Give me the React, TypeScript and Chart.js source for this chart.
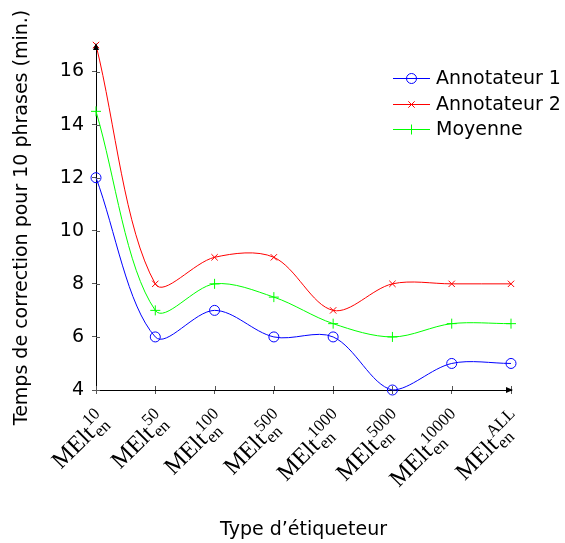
import React, { useEffect, useRef } from 'react';
import { Chart, registerables } from 'chart.js';

Chart.register(...registerables);

// ---- data ----
const categorySups = ['10', '50', '100', '500', '1000', '5000', '10000', 'ALL'];
const categorySub = 'en';
const categoryBase = 'MElt';
const annotateur1 = [12, 6, 7, 6, 6, 4, 5, 5];
const annotateur2 = [17, 8, 9, 9, 7, 8, 8, 8];
const moyenne = [14.5, 7, 8, 7.5, 6.5, 6, 6.5, 6.5];
const seriesNames = ['Annotateur 1', 'Annotateur 2', 'Moyenne'];
const seriesColors = ['#0000ff', '#ff0000', '#00ff00'];
const seriesMarkers = ['circle', 'crossRot', 'cross'];
const yMin = 4;
const yMax = 17;
const yStep = 2;
const xTitle = 'Type d\u2019étiqueteur';
const yTitle = 'Temps de correction pour 10 phrases (min.)';

const SANS = '"DejaVu Sans", sans-serif';
const SERIF = '"Liberation Serif", serif';

function drawMarker(ctx: CanvasRenderingContext2D, kind: string, x: number, y: number, color: string) {
  ctx.save();
  ctx.strokeStyle = color;
  ctx.lineWidth = 1;
  ctx.beginPath();
  if (kind === 'circle') {
    ctx.arc(x, y, 5, 0, Math.PI * 2);
  } else if (kind === 'crossRot') {
    const r = 3.2;
    ctx.moveTo(x - r, y - r); ctx.lineTo(x + r, y + r);
    ctx.moveTo(x - r, y + r); ctx.lineTo(x + r, y - r);
  } else {
    const r = 5;
    ctx.moveTo(x, y - r); ctx.lineTo(x, y + r);
    ctx.moveTo(x - r, y); ctx.lineTo(x + r, y);
  }
  ctx.stroke();
  ctx.restore();
}

const decorPlugin = {
  id: 'decor',
  afterDraw(chart: any) {
    const ctx: CanvasRenderingContext2D = chart.ctx;
    const xs = chart.scales.x;
    const ys = chart.scales.y;
    const { left, right, top, bottom } = chart.chartArea;
    ctx.save();

    // inner halves of tick marks
    ctx.strokeStyle = '#555';
    ctx.lineWidth = 1;
    ys.ticks.forEach((t: any) => {
      const y = Math.round(ys.getPixelForValue(t.value)) + 0.5;
      ctx.beginPath(); ctx.moveTo(left, y); ctx.lineTo(left + 4, y); ctx.stroke();
    });
    xs.ticks.forEach((_t: any, i: number) => {
      const x = Math.round(xs.getPixelForTick(i)) + 0.5;
      ctx.beginPath(); ctx.moveTo(x, bottom); ctx.lineTo(x, bottom - 4); ctx.stroke();
    });

    // arrow heads
    ctx.fillStyle = '#000';
    ctx.beginPath();
    ctx.moveTo(left, top - 2);
    ctx.lineTo(left - 3, top + 5);
    ctx.lineTo(left + 3, top + 5);
    ctx.closePath();
    ctx.fill();
    ctx.beginPath();
    ctx.moveTo(right + 2, bottom);
    ctx.lineTo(right - 5, bottom - 3);
    ctx.lineTo(right - 5, bottom + 3);
    ctx.closePath();
    ctx.fill();

    // rotated category labels with sub/superscripts
    const mainFont = '24px ' + SERIF;
    const smallFont = '17px ' + SERIF;
    categorySups.forEach((sup, i) => {
      const x = xs.getPixelForTick(i);
      ctx.save();
      ctx.translate(x + 7, bottom + 28);
      ctx.rotate(-Math.PI / 4);
      ctx.fillStyle = '#000';
      ctx.textAlign = 'left';
      ctx.textBaseline = 'alphabetic';
      ctx.font = mainFont;
      const wM = ctx.measureText(categoryBase).width;
      ctx.font = smallFont;
      const wSup = ctx.measureText(sup).width;
      const wSub = ctx.measureText(categorySub).width;
      const total = wM + Math.max(wSup, wSub);
      ctx.font = mainFont;
      ctx.fillText(categoryBase, -total, 7);
      ctx.font = smallFont;
      ctx.fillText(sup, -total + wM + 1, -4);
      ctx.fillText(categorySub, -total + wM + 1, 12);
      ctx.restore();
    });

    // legend
    const lx0 = 393, lx1 = 430, ly0 = 78, ldy = 25.5;
    ctx.font = '19px ' + SANS;
    ctx.textAlign = 'left';
    ctx.textBaseline = 'middle';
    seriesNames.forEach((name, i) => {
      const y = Math.round(ly0 + i * ldy) + 0.5;
      ctx.strokeStyle = seriesColors[i];
      ctx.lineWidth = 1;
      ctx.beginPath(); ctx.moveTo(lx0, y); ctx.lineTo(lx1, y); ctx.stroke();
      drawMarker(ctx, seriesMarkers[i], (lx0 + lx1) / 2, y, seriesColors[i]);
      ctx.fillStyle = '#000';
      ctx.fillText(name, 436, y + 1);
    });

    ctx.restore();
  },
};

export default function App() {
  const canvasRef = useRef<HTMLCanvasElement | null>(null);

  useEffect(() => {
    if (!canvasRef.current) return;
    const series = [annotateur1, annotateur2, moyenne];
    const chart = new Chart(canvasRef.current, {
      type: 'line',
      data: {
        labels: categorySups.map((s) => categoryBase + '^' + s + '_' + categorySub),
        datasets: series.map((values, i) => ({
          label: seriesNames[i],
          data: values,
          borderColor: seriesColors[i],
          backgroundColor: 'transparent',
          borderWidth: 1,
          pointStyle: seriesMarkers[i] as any,
          pointRadius: i === 1 ? 4.5 : 5,
          pointBorderWidth: 1,
          pointBorderColor: seriesColors[i],
          pointBackgroundColor: 'transparent',
          tension: 0.33,
          fill: false,
          clip: false as any,
        })),
      },
      options: {
        responsive: false,
        animation: false,
        devicePixelRatio: 1,
        layout: { padding: { top: 45, right: 54, left: 0, bottom: 0 } },
        plugins: {
          legend: { display: false },
          tooltip: { enabled: false },
        },
        scales: {
          x: {
            type: 'category',
            offset: false,
            grid: { display: true, drawOnChartArea: false, drawTicks: true, tickLength: 4, color: '#555' },
            border: { display: true, color: '#000', width: 1 },
            ticks: { display: false },
            title: {
              display: true,
              text: xTitle,
              color: '#000',
              font: { family: SANS, size: 19 },
              padding: { top: 0, bottom: 2 },
            },
            afterFit: (s: any) => { s.height = 153; },
          },
          y: {
            min: yMin,
            max: yMax,
            grid: { display: true, drawOnChartArea: false, drawTicks: true, tickLength: 4, color: '#555' },
            border: { display: true, color: '#000', width: 1 },
            ticks: {
              stepSize: yStep,
              color: '#000',
              padding: 8,
              font: { family: SANS, size: 19 },
            },
            afterBuildTicks: (s: any) => {
              s.ticks = s.ticks.filter((t: any) => (t.value - yMin) % yStep === 0);
            },
            title: {
              display: true,
              text: yTitle,
              color: '#000',
              font: { family: SANS, size: 19 },
              padding: { top: 11, bottom: 0 },
            },
            afterFit: (s: any) => { s.width = 96; },
          },
        },
      },
      plugins: [decorPlugin],
    });
    return () => chart.destroy();
  }, []);

  return (
    <div style={{ position: 'fixed', left: 0, top: 0, width: 565, height: 543, background: '#fff' }}>
      <canvas ref={canvasRef} width={565} height={543} style={{ width: 565, height: 543 }} />
    </div>
  );
}
